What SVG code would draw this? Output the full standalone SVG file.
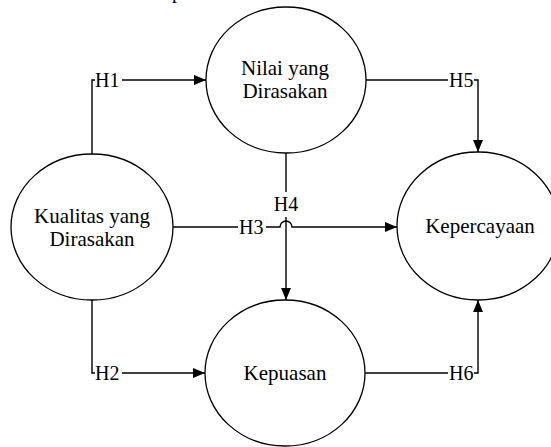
<svg xmlns="http://www.w3.org/2000/svg" width="551" height="447" viewBox="0 0 551 447">
<style>
  .node { fill: #ffffff; stroke: #000000; stroke-width: 1.3; }
  text { font-family: 'Liberation Serif', 'DejaVu Serif', serif; font-size: 20px; fill: #000000; }
  .nt { font-size: 21px; text-anchor: middle; }
  .mid { text-anchor: middle; }
  .conn { fill: none; stroke: #000000; stroke-width: 1.4; }
</style>
<defs>
  <marker id="arr" markerUnits="userSpaceOnUse" markerWidth="12" markerHeight="10" refX="12" refY="5" orient="auto">
    <path d="M0,0 L12,5 L0,10 z" fill="#000000"/>
  </marker>
</defs>
<rect width="551" height="447" fill="#ffffff"/>
<text x="172" y="-2">p</text>
<g id="n-kualitas">
  <ellipse class="node" cx="92" cy="227" rx="81" ry="73"/>
  <text class="nt" x="92" y="222.5">Kualitas yang</text>
  <text class="nt" x="92" y="245.5">Dirasakan</text>
</g>
<g id="n-nilai">
  <ellipse class="node" cx="286" cy="80" rx="80" ry="73"/>
  <text class="nt" x="285" y="74.5">Nilai yang</text>
  <text class="nt" x="285" y="97.5">Dirasakan</text>
</g>
<g id="n-kepuasan">
  <ellipse class="node" cx="285" cy="373" rx="80" ry="73"/>
  <text class="nt" x="285" y="380">Kepuasan</text>
</g>
<g id="n-kepercayaan">
  <ellipse class="node" cx="478" cy="226" rx="81" ry="74"/>
  <text class="nt" x="480" y="233">Kepercayaan</text>
</g>
<g id="connectors">
  <path class="conn" d="M92,154 V80 H95"/>
  <text x="95" y="87">H1</text>
  <path class="conn" d="M122,80 H206" marker-end="url(#arr)"/>

  <path class="conn" d="M92,300 V373 H95"/>
  <text x="95" y="380">H2</text>
  <path class="conn" d="M122,373 H205" marker-end="url(#arr)"/>

  <path class="conn" d="M173,227 H238"/>
  <text x="239" y="234">H3</text>
  <path class="conn" d="M266,227 H280 A6,6 0 0 1 292,227 H397" marker-end="url(#arr)"/>

  <path class="conn" d="M286,153 V192"/>
  <text class="mid" x="286" y="211">H4</text>
  <path class="conn" d="M286,217 V300" marker-end="url(#arr)"/>

  <path class="conn" d="M366,80 H448"/>
  <text x="449" y="87">H5</text>
  <path class="conn" d="M474,80 H478 V152" marker-end="url(#arr)"/>

  <path class="conn" d="M365,373 H448"/>
  <text x="449" y="380">H6</text>
  <path class="conn" d="M474,373 H478 V300" marker-end="url(#arr)"/>
</g>
</svg>
